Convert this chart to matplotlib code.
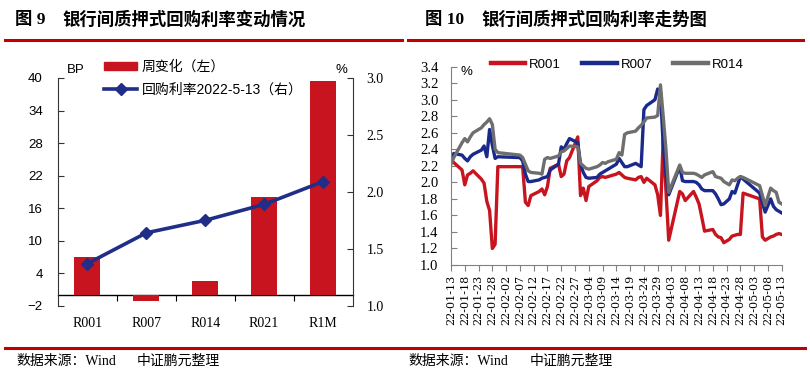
import matplotlib
matplotlib.use('Agg')
import matplotlib.pyplot as plt
import matplotlib.dates as mdates
import matplotlib.ticker as mticker
from matplotlib.lines import Line2D
from matplotlib.patches import Patch
import pandas as pd

plt.rcParams['font.family'] = ['Liberation Sans', 'Noto Sans CJK SC']
SERIF = ['Liberation Serif', 'Noto Sans CJK SC']

# 图9 数据
cats = ['R001', 'R007', 'R014', 'R021', 'R1M']
week_chg = [7.0, -1.2, 2.6, 18.0, 39.5]          # BP
rate_0513 = [1.37, 1.64, 1.75, 1.89, 2.09]       # %

# 图10 数据
dates = ['2022-01-13', '2022-01-14', '2022-01-17', '2022-01-18', '2022-01-19', '2022-01-20', '2022-01-21',
         '2022-01-24', '2022-01-25', '2022-01-26', '2022-01-27', '2022-01-28', '2022-01-29', '2022-01-30',
         '2022-02-07', '2022-02-08', '2022-02-09', '2022-02-10', '2022-02-11', '2022-02-14', '2022-02-15',
         '2022-02-16', '2022-02-17', '2022-02-18', '2022-02-21', '2022-02-22', '2022-02-23', '2022-02-24',
         '2022-02-25', '2022-02-28',
         '2022-03-01', '2022-03-02', '2022-03-03', '2022-03-04', '2022-03-07', '2022-03-08', '2022-03-09',
         '2022-03-10', '2022-03-11', '2022-03-14', '2022-03-15', '2022-03-16', '2022-03-17', '2022-03-18',
         '2022-03-21', '2022-03-22', '2022-03-23', '2022-03-24', '2022-03-25', '2022-03-28', '2022-03-29',
         '2022-03-30', '2022-03-31',
         '2022-04-01', '2022-04-02', '2022-04-06', '2022-04-07', '2022-04-08', '2022-04-11', '2022-04-12',
         '2022-04-13', '2022-04-14', '2022-04-15', '2022-04-18', '2022-04-19', '2022-04-20', '2022-04-21',
         '2022-04-22', '2022-04-24', '2022-04-25', '2022-04-26', '2022-04-27', '2022-04-28', '2022-04-29',
         '2022-05-05', '2022-05-06', '2022-05-07', '2022-05-09', '2022-05-10', '2022-05-11', '2022-05-12',
         '2022-05-13']
r001 = [2.28, 2.24, 2.15, 1.97, 2.09, 2.11, 2.14, 2.04, 1.99, 1.77, 1.66, 1.20, 1.25, 2.19,
        2.19, 2.19, 1.76, 1.72, 1.84, 1.89, 1.92, 1.85, 1.95, 2.17, 2.22, 2.07, 2.10, 2.26, 2.30, 2.55,
        1.84, 1.93, 1.78, 1.95, 2.02, 2.06, 2.07, 2.06, 2.07, 2.10, 2.12, 2.09, 2.06, 2.05, 2.03, 2.06,
        2.07, 2.00, 2.05, 1.97, 1.85, 1.60, 2.53,
        1.90, 1.30, 1.89, 1.86, 1.78, 1.89, 1.82, 1.74, 1.58, 1.41, 1.43, 1.37, 1.34, 1.33, 1.27, 1.31,
        1.35, 1.36, 1.37, 1.37, 1.87,
        1.80, 1.34, 1.30, 1.34, 1.35, 1.37, 1.38, 1.37]
r007 = [2.29, 2.35, 2.33, 2.29, 2.26, 2.31, 2.34, 2.39, 2.44, 2.31, 2.64, 2.45, 2.29, 2.31,
        2.30, 2.26, 2.10, 2.01, 2.01, 2.03, 2.05, 2.06, 2.07, 2.15, 2.22, 2.43, 2.40, 2.47, 2.53, 2.48,
        2.22, 2.12, 2.06, 2.05, 2.06, 2.10, 2.12, 2.14, 2.16, 2.22, 2.29, 2.24, 2.19, 2.19, 2.23, 2.21,
        2.19, 2.88, 2.93, 3.00, 3.13, 3.10, 2.45,
        2.10, 1.85, 2.19, 2.02, 2.01, 2.01, 2.00, 1.97, 1.92, 1.90, 1.90, 1.86, 1.80, 1.73, 1.74, 1.80,
        1.89, 1.87, 1.97, 2.07, 2.04,
        1.87, 1.75, 1.64, 1.80, 1.71, 1.67, 1.65, 1.63]
r014 = [2.22, 2.30, 2.48, 2.53, 2.49, 2.55, 2.60, 2.66, 2.70, 2.73, 2.77, 2.70, 2.40, 2.36,
        2.33, 2.30, 2.22, 2.14, 2.12, 2.11, 2.10, 2.28, 2.30, 2.29, 2.32, 2.37, 2.38, 2.41, 2.44, 2.43,
        2.23, 2.20, 2.17, 2.16, 2.19, 2.21, 2.24, 2.23, 2.25, 2.28, 2.36, 2.33, 2.58, 2.60, 2.62, 2.66,
        2.69, 2.73, 2.78, 2.79, 2.81, 3.18, 2.80,
        2.40, 1.88, 2.21, 2.12, 2.11, 2.11, 2.10, 2.08, 2.06, 2.09, 2.13, 2.07, 2.06, 2.05, 2.01, 1.97,
        2.03, 2.02, 2.05, 2.07, 2.06,
        1.96, 1.84, 1.72, 1.93, 1.90, 1.88, 1.76, 1.74]

RED = '#C8141E'
NAVY = '#202E88'
BLUE = '#1A2A8C'
GRAY = '#6E6E6E'
W, H = 810, 378

fig = plt.figure(figsize=(8.1, 3.78), dpi=100)


def box(x0, y0, x1, y1):
    # 像素坐标 -> figure 比例
    return [x0 / W, 1 - y1 / H, (x1 - x0) / W, (y1 - y0) / H]


def hline(x0, x1, y, lw=2.2):
    fig.add_artist(Line2D([x0 / W, x1 / W], [1 - y / H, 1 - y / H],
                          transform=fig.transFigure, color='#C00000', lw=lw))


# 标题 / 底部
fig.text(15 / W, 1 - 19.5 / H, '图 9', fontsize=12.5, fontweight='bold', va='center', family=SERIF)
fig.text(62 / W, 1 - 19.5 / H, '银行间质押式回购利率变动情况', fontsize=12.5, fontweight='bold',
         va='center', family='Noto Sans CJK SC')
fig.text(425 / W, 1 - 19.5 / H, '图 10', fontsize=12.5, fontweight='bold', va='center', family=SERIF)
fig.text(481 / W, 1 - 19.5 / H, '银行间质押式回购利率走势图', fontsize=12.5, fontweight='bold',
         va='center', family='Noto Sans CJK SC')
hline(5, 402, 39.5)
hline(408, 803, 39.5)
hline(5, 805, 347.5)
for x0, x1 in [(16, 137), (408, 530)]:
    fig.text(x0 / W, 1 - 361 / H, '数据来源：Wind', fontsize=10, va='center', family=SERIF)
    fig.text(x1 / W, 1 - 361 / H, '中证鹏元整理', fontsize=10, va='center', family=SERIF)

# ---------------- 图9 ----------------
ax1 = fig.add_axes(box(58, 78, 352.5, 305.7))
x = list(range(len(cats)))
ax1.bar(x, week_chg, width=0.44, color=RED, zorder=2)
ax1.set_xlim(-0.5, 4.5)
ax1.set_ylim(-2, 40)
ax1.set_yticks(range(-2, 41, 6))
for s in ['top', 'right', 'bottom']:
    ax1.spines[s].set_visible(False)
ax1.spines['left'].set_color('#333333')
ax1.spines['left'].set_linewidth(0.8)
ax1.tick_params(axis='y', direction='in', length=4, labelsize=9.5, pad=11, color='#333333')
ax1.set_xticks(x, cats)
ax1.tick_params(axis='x', length=0, pad=8, labelsize=10)
for t in ax1.get_xticklabels():
    t.set_family(SERIF)

zero = ax1.secondary_xaxis(2 / 42)
zero.set_xticks([0.5, 1.5, 2.5, 3.5])
zero.tick_params(direction='out', length=4, labelbottom=False, color='black')
zero.spines['bottom'].set_linewidth(1.0)

ax1r = ax1.twinx()
ax1r.plot(x, rate_0513, color=NAVY, lw=2.6, marker='D', ms=6.5, zorder=3)
ax1r.set_ylim(1.0, 3.0)
ax1r.set_yticks([1.0, 1.5, 2.0, 2.5, 3.0])
ax1r.yaxis.set_major_formatter(mticker.FormatStrFormatter('%.1f'))
for s in ['top', 'left', 'bottom']:
    ax1r.spines[s].set_visible(False)
ax1r.spines['right'].set_color('#333333')
ax1r.spines['right'].set_linewidth(0.8)
ax1r.tick_params(axis='y', direction='in', length=4, labelsize=10, pad=10, color='#333333')
for t in ax1r.get_yticklabels():
    t.set_family(SERIF)

fig.text(67 / W, 1 - 70 / H, 'BP', fontsize=9.5, va='center')
fig.text(336 / W, 1 - 70 / H, '%', fontsize=9.5, va='center')

fig.legend(handles=[Patch(color=RED),
                    Line2D([], [], color=NAVY, lw=2.6, marker='D', ms=6.5)],
           labels=['周变化（左）', '回购利率2022-5-13（右）'],
           loc='upper left', bbox_to_anchor=(104 / W, 1 - 60 / H), frameon=False,
           fontsize=10, handlelength=2.4, handleheight=0.55, handletextpad=0.3,
           labelspacing=0.65, borderpad=0, borderaxespad=0)

# ---------------- 图10 ----------------
d = pd.to_datetime(dates)
ax2 = fig.add_axes(box(451, 66.7, 781.7, 265))
ax2.plot(d, r001, color=RED, lw=2.4, label='R001')
ax2.plot(d, r007, color=BLUE, lw=2.4, label='R007')
ax2.plot(d, r014, color=GRAY, lw=2.4, label='R014')
ax2.set_xlim(pd.Timestamp('2022-01-13'), pd.Timestamp('2022-05-13'))
ax2.set_ylim(1.0, 3.4)
ax2.set_yticks([1.0, 1.2, 1.4, 1.6, 1.8, 2.0, 2.2, 2.4, 2.6, 2.8, 3.0, 3.2, 3.4])
ax2.yaxis.set_major_formatter(mticker.FormatStrFormatter('%.1f'))
ax2.set_xticks(pd.date_range('2022-01-13', '2022-05-13', freq='5D'))
ax2.xaxis.set_major_formatter(mdates.DateFormatter('%y-%m-%d'))
for s in ['top', 'right']:
    ax2.spines[s].set_visible(False)
for s in ['left', 'bottom']:
    ax2.spines[s].set_color('#808080')
    ax2.spines[s].set_linewidth(0.8)
ax2.tick_params(axis='y', direction='in', length=4, labelsize=10.5, pad=9, color='#808080')
ax2.tick_params(axis='x', direction='out', length=4, labelsize=8, pad=3, color='#808080',
                labelrotation=90)
for t in ax2.get_yticklabels():
    t.set_family(SERIF)
for t in ax2.get_xticklabels():
    t.set_family('DejaVu Serif')

fig.text(461 / W, 1 - 72 / H, '%', fontsize=9.5, va='center')
leg = ax2.legend(ncol=3, loc='center left', bbox_to_anchor=(491 / W, 1 - 65 / H),
                 bbox_transform=fig.transFigure, frameon=False, fontsize=9.5,
                 handlelength=2.6, handletextpad=0.3, columnspacing=1.6,
                 borderpad=0, borderaxespad=0)
for h in leg.get_lines():
    h.set_linewidth(3.2)

fig.savefig('out.png', dpi=100)
